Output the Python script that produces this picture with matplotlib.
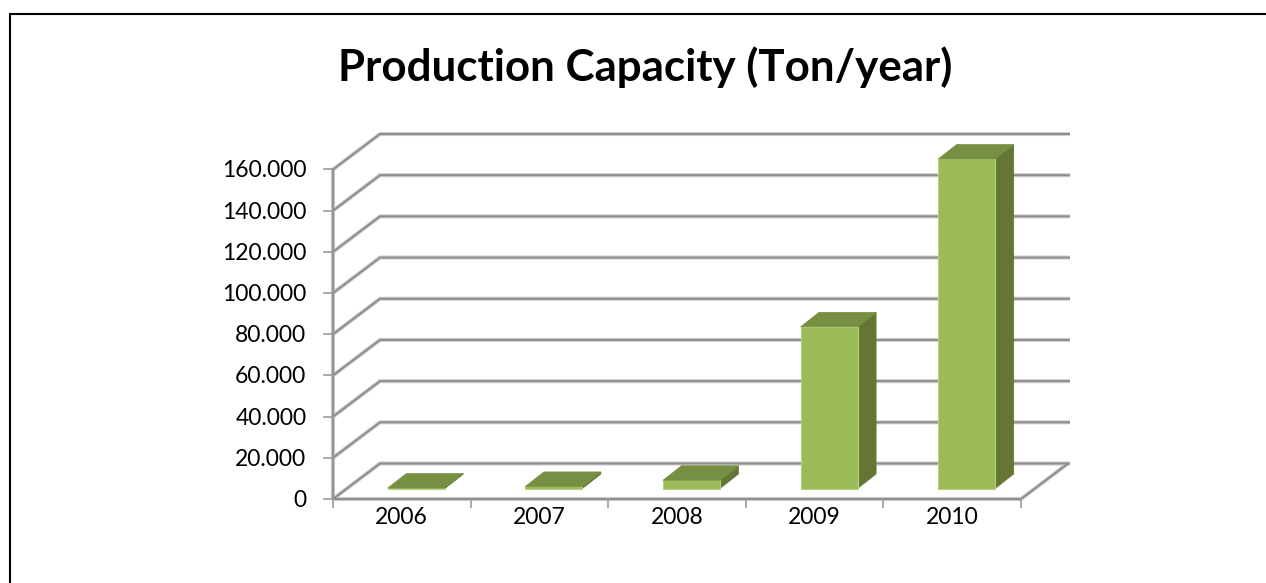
import matplotlib
matplotlib.use("Agg")
import matplotlib.pyplot as plt
from matplotlib.patches import Polygon
from matplotlib.lines import Line2D

years = ["2006", "2007", "2008", "2009", "2010"]
capacity = [200, 1000, 4000, 78500, 160000]
y_ticks = [0, 20000, 40000, 60000, 80000, 100000, 120000, 140000, 160000]
y_tick_labels = ["0", "20.000", "40.000", "60.000", "80.000", "100.000", "120.000", "140.000", "160.000"]
title = "Production Capacity (Ton/year)"

W, H = 1266, 583
X0, X1, Y0, Y1 = 333, 1021, 499, 169.5
DPX, DPY = 47.0, 35.5
px_x = (X1 - X0) / 5.0
px_y = (Y0 - Y1) / 160000.0

plt.rcParams["font.family"] = ["Lato", "DejaVu Sans"]
fig = plt.figure(figsize=(W / 100, H / 100), dpi=100, facecolor="white")
fig.add_artist(Line2D([9.5 / W, 9.5 / W, 1.0], [0, 1 - 13.5 / H, 1 - 13.5 / H], transform=fig.transFigure,
                      color="black", lw=1.5, solid_joinstyle="miter"))
ax = fig.add_axes([X0 / W, (H - Y0) / H, (X1 - X0) / W, (Y0 - Y1) / H])
ax.set_xlim(-0.5, 4.5)
ax.set_ylim(0, 160000)
ax.axis("off")


def P(x, y, d=0.0):
    """Category/value point pushed back by depth d (in pixels along the floor's x)."""
    return (x + d / px_x, y + d * (DPY / DPX) / px_y)


def line(pts, color, lw, z=1):
    ax.plot([p[0] for p in pts], [p[1] for p in pts], color=color, lw=lw, clip_on=False,
            solid_capstyle="butt", solid_joinstyle="miter", zorder=z)


# walls and floor
for v in y_ticks:
    pts = [P(-0.5, v), P(-0.5, v, DPX), P(4.5 + 49 / px_x - DPX / px_x, v, DPX)]
    line(pts, "#d2d2d2", 3.0, 1)
    line(pts, "#8e8e8e", 1.5, 2)
line([P(4.5, 0), P(4.5, 0, DPX)], "#d2d2d2", 3.0, 1)
line([P(4.5, 0), P(4.5, 0, DPX)], "#8e8e8e", 1.5, 2)
line([P(-0.5, 0), P(4.5, 0)], "#cfcfcf", 3.0, 1)
line([P(-0.5, 0), P(4.5, 0)], "#8e8e8e", 1.5, 2)
line([P(-0.5, 0), P(-0.5, 160000)], "#c8c8c8", 3.0, 1)
line([P(-0.5, 0), P(-0.5, 160000)], "#949494", 1.5, 2)

# axis ticks and labels
for v, lab in zip(y_ticks, y_tick_labels):
    ax.plot([-0.5 - 9 / px_x, -0.5], [v, v], color="#9a9a9a", lw=1.2, clip_on=False, zorder=2)
    ax.text(-0.5 - 26.5 / px_x, v - 1.5 / px_y, lab, ha="right", va="center", fontsize=16.5, color="black")
for i in range(6):
    ax.plot([i - 0.5, i - 0.5], [0, -8 / px_y], color="#9a9a9a", lw=1.2, clip_on=False, zorder=2)
for i, lab in enumerate(years):
    ax.text(i, -18 / px_y, lab, ha="center", va="center", fontsize=16.5, color="black")

# bars
half = 28.5 / px_x
shift = 14.5 / px_x
DEP = 18.5
for i, v in enumerate(capacity):
    c = i + shift
    l, r = c - half, c + half
    base = 10.5 / px_y
    t = base + v
    ax.bar(c, v, bottom=base, width=2 * half, color="#9bbb59", edgecolor="#b5d27c", linewidth=0.8,
           zorder=5, clip_on=False)
    back = 14.5 / px_y
    dx = DEP / px_x
    side = [(r, base), (r + dx, base + back), (r + dx, t + back), (r, t)]
    top = [(l, t), (l + dx, t + back), (r + dx, t + back), (r, t)]
    ax.add_patch(Polygon(side, closed=True, fc="#647534", ec="#647534", lw=0.5, zorder=4, clip_on=False))
    ax.add_patch(Polygon(top, closed=True, fc="#778f42", ec="#778f42", lw=0.5, zorder=6, clip_on=False))

fig.text(645 / W, 1 - 67 / H, title, ha="center", va="center", fontsize=31.6, fontweight="bold", color="black")
fig.savefig("out.png", dpi=100)
